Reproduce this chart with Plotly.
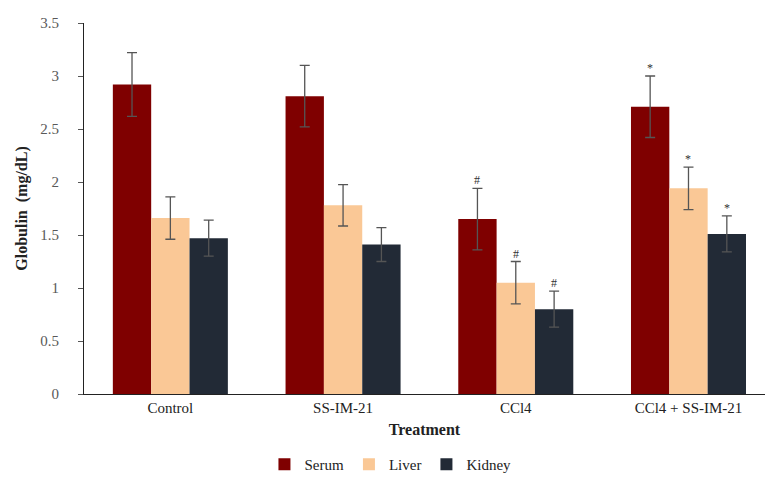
import plotly.graph_objects as go

treatments = ["Control", "SS-IM-21", "CCl4", "CCl4 + SS-IM-21"]
serum = [2.92, 2.81, 1.65, 2.71]
serum_err = [0.30, 0.29, 0.29, 0.29]
liver = [1.66, 1.78, 1.05, 1.94]
liver_err = [0.20, 0.195, 0.20, 0.20]
kidney = [1.47, 1.41, 0.80, 1.51]
kidney_err = [0.17, 0.16, 0.17, 0.17]
serum_marks = ["", "", "#", "*"]
liver_marks = ["", "", "#", "*"]
kidney_marks = ["", "", "#", "*"]

font_family = "Liberation Serif, Times New Roman, serif"
xs = list(range(len(treatments)))

fig = go.Figure()
series = [
    ("Serum", serum, serum_err, serum_marks, "#7f0000"),
    ("Liver", liver, liver_err, liver_marks, "#fac896"),
    ("Kidney", kidney, kidney_err, kidney_marks, "#222a36"),
]
for name, vals, errs, marks, color in series:
    fig.add_trace(go.Bar(
        name=name, x=xs, y=vals, marker=dict(color=color, line=dict(width=0)),
        error_y=dict(type="data", array=errs, visible=True, color="#555555",
                     thickness=1.3, width=5),
    ))

# significance markers above the error bars
bar_w = (1 - 0.334) / 3
for i, (name, vals, errs, marks, color) in enumerate(series):
    offset = (i - 1) * bar_w
    for j, m in enumerate(marks):
        if m:
            fig.add_annotation(x=xs[j] + offset, y=vals[j] + errs[j], text=m,
                               showarrow=False, yanchor="bottom", yshift=-1,
                               font=dict(family=font_family, size=12, color="#333333"))

fig.update_layout(
    width=765, height=477,
    margin=dict(l=84, r=0, t=23, b=83, autoexpand=False),
    barmode="group", bargap=0.334, bargroupgap=0,
    plot_bgcolor="white", paper_bgcolor="white",
    font=dict(family=font_family, size=15, color="#595959"),
    showlegend=True,
    legend=dict(orientation="h", x=0.45, xref="paper", xanchor="center",
                y=-0.19, yanchor="middle", font=dict(size=15, color="#222222"),
                traceorder="normal", itemwidth=30, tracegroupgap=0),
    xaxis=dict(
        tickmode="array", tickvals=xs, ticktext=treatments,
        range=[-0.5, 3.443], showline=True, linecolor="#222222", linewidth=1,
        ticks="", showgrid=False, zeroline=False,
        tickfont=dict(size=15, color="#222222"),
        title=dict(text="<b>Treatment</b>", font=dict(size=16, color="#222222"), standoff=8),
    ),
    yaxis=dict(
        range=[0, 3.5], dtick=0.5, showline=True, linecolor="#222222", linewidth=1,
        ticks="outside", ticklen=5, tickcolor="#555555", showgrid=False, zeroline=False,
        tickfont=dict(size=15, color="#595959"), ticklabelstandoff=16,
        title=dict(text="<b>Globulin  (mg/dL)</b>", font=dict(size=16, color="#222222"), standoff=8),
    ),
)

fig.write_html("out.html")
